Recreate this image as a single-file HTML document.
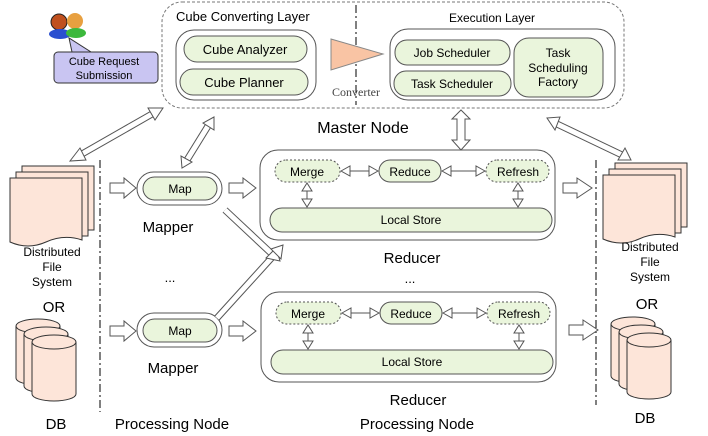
<!DOCTYPE html>
<html><head><meta charset="utf-8"><style>
body{margin:0;background:#fff}
svg{display:block;font-family:"Liberation Sans",sans-serif}
</style></head><body>
<svg width="708" height="436" viewBox="0 0 708 436" xmlns="http://www.w3.org/2000/svg">
<defs>
<g id="doc">
<path d="M12,0 h72 v64 h-72z" fill="#fde5d9" stroke="#333" stroke-width="1"/>
<path d="M6,6 h72 v64 h-72z" fill="#fde5d9" stroke="#333" stroke-width="1"/>
<path d="M0,12 h72 v62 q-18,-6 -36,2 q-18,8 -36,0z" fill="#fde5d9" stroke="#333" stroke-width="1"/>
</g>
<g id="cyl">
<path d="M0,10 v52 a22,7 0 0 0 44,0 v-52" fill="#fde5d9" stroke="#333"/>
<ellipse cx="22" cy="10" rx="22" ry="7" fill="#fde5d9" stroke="#333"/>
</g>
<g id="db">
<use href="#cyl" x="0" y="0"/>
<use href="#cyl" x="8" y="8"/>
<use href="#cyl" x="16" y="16"/>
</g>
</defs>

<rect x="162" y="2" width="462" height="106" rx="20" fill="none" stroke="#777" stroke-dasharray="3,2"/>
<line x1="356" y1="5" x2="356" y2="105" stroke="#000" stroke-dasharray="8,3,2,3"/>
<text x="176" y="21" font-size="13">Cube  Converting Layer</text>
<text x="492" y="22" font-size="12" text-anchor="middle">Execution Layer</text>
<rect x="176" y="30" width="140" height="70" rx="18" fill="#fff" stroke="#555"/>
<rect x="184" y="36" width="123" height="26" rx="13" fill="#eaf5dc" stroke="#555"/>
<text x="245" y="54" font-size="13" text-anchor="middle">Cube Analyzer</text>
<rect x="180" y="69" width="128" height="26" rx="13" fill="#eaf5dc" stroke="#555"/>
<text x="244" y="87" font-size="13" text-anchor="middle">Cube Planner</text>
<polygon points="331,39 383,54 331,70" fill="#f9c4a4" stroke="#888"/>
<text x="356" y="96" font-size="12" text-anchor="middle" font-family="Liberation Serif,serif" fill="#444">Converter</text>
<rect x="390" y="29" width="225" height="71" rx="18" fill="#fff" stroke="#555"/>
<rect x="395" y="40" width="115" height="25" rx="12" fill="#eaf5dc" stroke="#555"/>
<text x="452" y="57" font-size="12" text-anchor="middle">Job Scheduler</text>
<rect x="394" y="71" width="117" height="25" rx="12" fill="#eaf5dc" stroke="#555"/>
<text x="452" y="88" font-size="12" text-anchor="middle">Task Scheduler</text>
<rect x="514" y="38" width="89" height="59" rx="15" fill="#eaf5dc" stroke="#555"/>
<text x="558" y="57" font-size="12" text-anchor="middle">Task</text>
<text x="558" y="72" font-size="12" text-anchor="middle">Scheduling</text>
<text x="558" y="86" font-size="12" text-anchor="middle">Factory</text>
<text x="363" y="133" font-size="16" text-anchor="middle">Master Node</text>

<circle cx="59" cy="22" r="8" fill="#c0501e" stroke="#222"/>
<ellipse cx="60" cy="34" rx="11" ry="5" fill="#2a4fd0"/>
<circle cx="75" cy="21" r="8" fill="#e8a040"/>
<ellipse cx="76" cy="33" rx="10" ry="5" fill="#3cb83c"/>
<path d="M58,52 h96 a4,4 0 0 1 4,4 v23 a4,4 0 0 1 -4,4 h-96 a4,4 0 0 1 -4,-4 v-23 a4,4 0 0 1 4,-4 h14 l-3,-14 l22,14z" fill="#c9c5f2" stroke="#333"/>
<text x="104" y="65" font-size="11" text-anchor="middle">Cube Request</text>
<text x="104" y="79" font-size="11" text-anchor="middle">Submission</text>

<line x1="100" y1="160" x2="100" y2="412" stroke="#000" stroke-dasharray="8,3,2,3"/>
<line x1="596" y1="160" x2="596" y2="405" stroke="#000" stroke-dasharray="8,3,2,3"/>

<use href="#doc" x="10" y="166"/>
<text x="52" y="256" font-size="12" text-anchor="middle">Distributed</text>
<text x="52" y="271" font-size="12" text-anchor="middle">File</text>
<text x="52" y="286" font-size="12" text-anchor="middle">System</text>
<text x="54" y="312" font-size="15" text-anchor="middle">OR</text>
<use href="#db" x="16" y="316"/>
<text x="56" y="429" font-size="15" text-anchor="middle">DB</text>

<use href="#doc" x="603" y="163"/>
<text x="650" y="251" font-size="12" text-anchor="middle">Distributed</text>
<text x="650" y="266" font-size="12" text-anchor="middle">File</text>
<text x="650" y="281" font-size="12" text-anchor="middle">System</text>
<text x="647" y="309" font-size="15" text-anchor="middle">OR</text>
<use href="#db" x="611" y="314"/>
<text x="645" y="423" font-size="15" text-anchor="middle">DB</text>

<rect x="137" y="172" width="85" height="33" rx="16.5" fill="#fff" stroke="#555"/>
<rect x="143" y="177" width="74" height="23" rx="11.5" fill="#eaf5dc" stroke="#555"/>
<text x="180" y="193" font-size="12" text-anchor="middle">Map</text>
<text x="168" y="232" font-size="15" text-anchor="middle">Mapper</text>
<text x="170" y="282" font-size="13" text-anchor="middle">...</text>
<rect x="137" y="313" width="85" height="34" rx="17" fill="#fff" stroke="#555"/>
<rect x="143" y="319" width="74" height="23" rx="11.5" fill="#eaf5dc" stroke="#555"/>
<text x="180" y="335" font-size="12" text-anchor="middle">Map</text>
<text x="173" y="373" font-size="15" text-anchor="middle">Mapper</text>
<text x="172" y="429" font-size="15" text-anchor="middle">Processing Node</text>

<g id="red1">
<rect x="260" y="150" width="295" height="90" rx="18" fill="#fff" stroke="#555"/>
<rect x="275" y="160" width="65" height="22" rx="11" fill="#eaf5dc" stroke="#555" stroke-dasharray="2,2"/>
<text x="307" y="176" font-size="12" text-anchor="middle">Merge</text>
<rect x="379" y="160" width="62" height="22" rx="11" fill="#eaf5dc" stroke="#555"/>
<text x="410" y="176" font-size="12" text-anchor="middle">Reduce</text>
<rect x="486" y="160" width="63" height="22" rx="11" fill="#eaf5dc" stroke="#555" stroke-dasharray="2,2"/>
<text x="518" y="176" font-size="12" text-anchor="middle">Refresh</text>
<rect x="270" y="208" width="282" height="24" rx="12" fill="#eaf5dc" stroke="#555"/>
<text x="411" y="224" font-size="12" text-anchor="middle">Local Store</text>
<g fill="#fff" stroke="#555">
<line x1="350" y1="171" x2="369" y2="171"/><polygon points="341,171 350,166 350,176"/><polygon points="378,171 369,166 369,176"/>
<line x1="451" y1="171" x2="476" y2="171"/><polygon points="442,171 451,166 451,176"/><polygon points="485,171 476,166 476,176"/>
<line x1="307" y1="191" x2="307" y2="199"/><polygon points="307,183 302,191 312,191"/><polygon points="307,207 302,199 312,199"/>
<line x1="518" y1="191" x2="518" y2="199"/><polygon points="518,183 513,191 523,191"/><polygon points="518,207 513,199 523,199"/>
</g>
</g>
<use href="#red1" x="1" y="142"/>
<text x="412" y="263" font-size="15" text-anchor="middle">Reducer</text>
<text x="410" y="283" font-size="13" text-anchor="middle">...</text>
<text x="418" y="405" font-size="15" text-anchor="middle">Reducer</text>
<text x="417" y="429" font-size="15" text-anchor="middle">Processing Node</text>

<g fill="#fff" stroke="#555">
<polygon points="110,183 124,183 124,178 136,188 124,198 124,193 110,193"/>
<polygon points="229,183 243,183 243,178 256,188 243,198 243,193 229,193"/>
<polygon points="110,326 124,326 124,321 136,331 124,341 124,336 110,336"/>
<polygon points="229,326 243,326 243,321 256,331 243,341 243,336 229,336"/>
<polygon points="563,183 577,183 577,178 592,188 577,198 577,193 563,193"/>
<polygon points="569,325 583,325 583,320 598,330 583,340 583,335 569,335"/>
<polygon points="461,110 470,119 465,119 465,140 470,140 461,150 452,140 457,140 457,119 452,119"/>
</g>

<g stroke="#555" stroke-width="7">
<line x1="82" y1="154" x2="152" y2="114"/>
<line x1="187" y1="160" x2="208" y2="126"/>
<line x1="557" y1="124" x2="622" y2="155"/>
<line x1="225" y1="210" x2="272" y2="254"/>
<line x1="217" y1="318" x2="276" y2="253"/>
</g>
<g stroke="#fff" stroke-width="5">
<line x1="82" y1="154" x2="152" y2="114"/>
<line x1="187" y1="160" x2="208" y2="126"/>
<line x1="557" y1="124" x2="622" y2="155"/>
<line x1="225" y1="210" x2="272" y2="254"/>
<line x1="217" y1="318" x2="276" y2="253"/>
</g>
<g fill="#fff" stroke="#555">
<polygon points="70,161 80,148 86,160"/>
<polygon points="163,108 148,108 155,120"/>
<polygon points="182,168 181,156 192,162"/>
<polygon points="214,117 203,123 214,130"/>
<polygon points="547,118 560,117 555,130"/>
<polygon points="631,160 625,148 618,160"/>
<polygon points="280,261 266,258 276,248"/>
<polygon points="283,245 281,259 271,249"/>
</g>
</svg>
</body></html>
